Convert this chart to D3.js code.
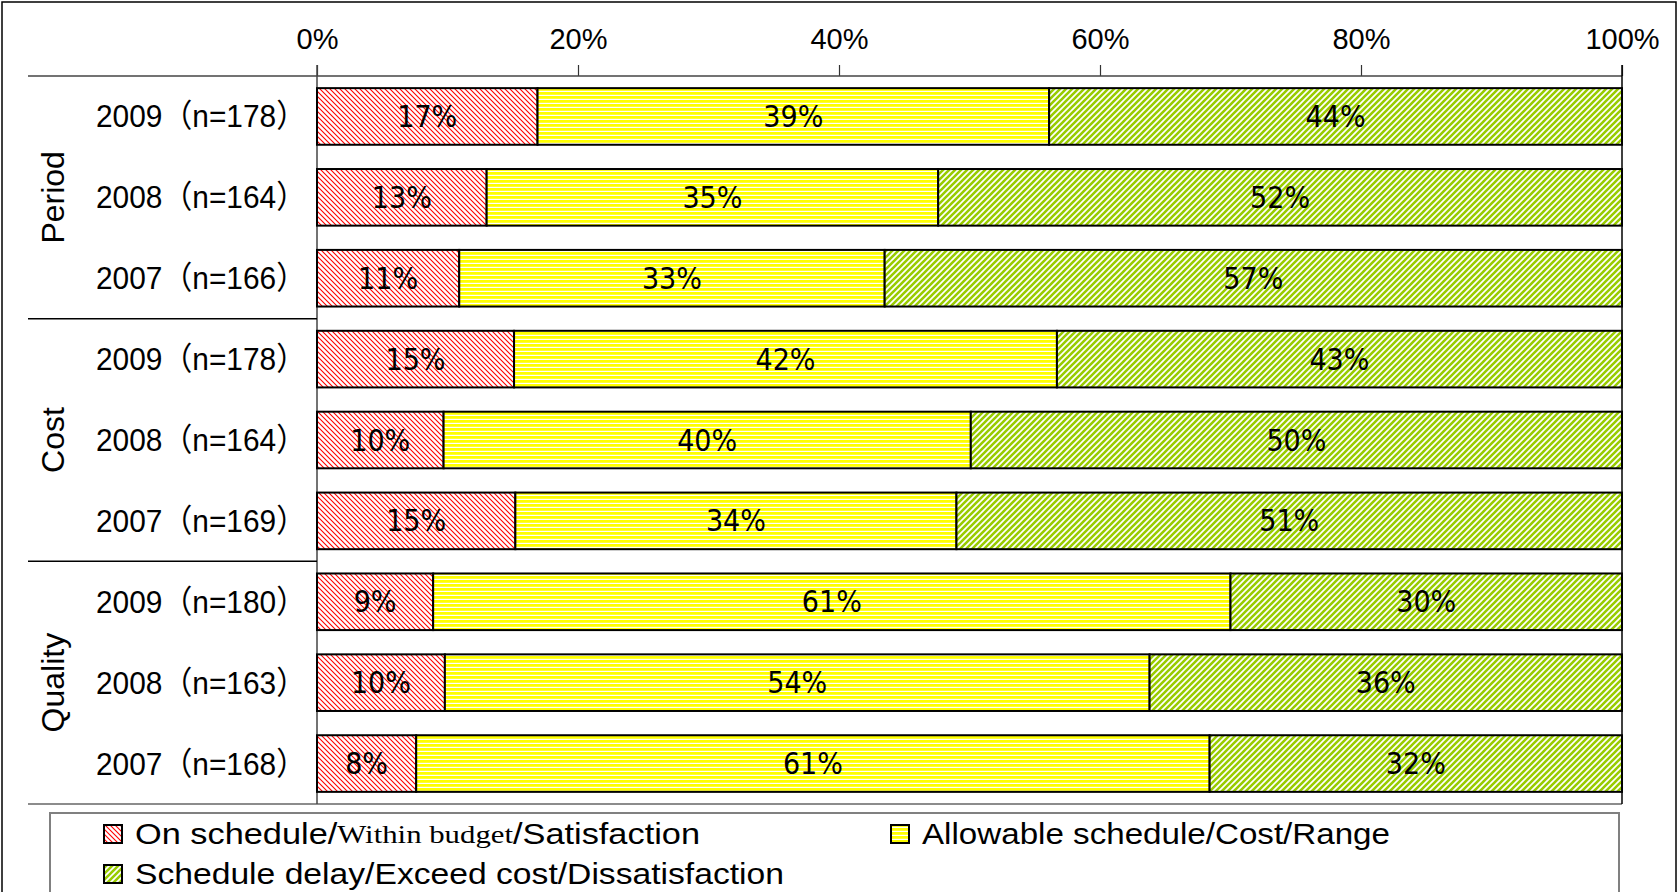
<!DOCTYPE html>
<html>
<head>
<meta charset="utf-8">
<script src="https://cdn.jsdelivr.net/npm/d3@7"></script>
<style>
  body { margin: 0; background: #fff; }
  svg text { font-family: "Liberation Sans", Arial, "Noto Sans CJK JP", sans-serif; fill: #000; }
</style>
</head>
<body>
<div id="chart"></div>
<script>
// data (percent of respondents)
const groups = ["Period", "Cost", "Quality"];
const rowLabels = ["2009（n=178）", "2008（n=164）", "2007（n=166）",
                   "2009（n=178）", "2008（n=164）", "2007（n=169）",
                   "2009（n=180）", "2008（n=163）", "2007（n=168）"];
const rowGroup = ["Period", "Period", "Period", "Cost", "Cost", "Cost", "Quality", "Quality", "Quality"];
const onSchedule = [16.9, 13.0, 10.9, 15.1, 9.7, 15.2, 8.9, 9.8, 7.6];
const allowable  = [39.2, 34.6, 32.6, 41.6, 40.4, 33.8, 61.1, 54.0, 60.8];
const delayed    = [43.9, 52.4, 56.5, 43.3, 49.9, 51.0, 30.0, 36.2, 31.6];
const seriesKeys = ["onSchedule", "allowable", "delayed"];
const xTicks = [0, 20, 40, 60, 80, 100];

const W = 1677, H = 892;
const margin = {top: 76, left: 317, right: 55, bottom: 88};
const plotW = W - margin.left - margin.right,
      plotH = H - margin.top - margin.bottom;

const rows = rowLabels.map((lab, i) => ({
  id: i, label: lab, group: rowGroup[i],
  onSchedule: onSchedule[i], allowable: allowable[i], delayed: delayed[i]
}));

const svg = d3.select("#chart").append("svg")
  .attr("width", W).attr("height", H);

// hatch patterns like the original office chart
const defs = svg.append("defs");
const pRed = defs.append("pattern").attr("id", "pRed")
  .attr("patternUnits", "userSpaceOnUse").attr("width", 5).attr("height", 5);
pRed.append("rect").attr("width", 5).attr("height", 5).attr("fill", "#fff");
pRed.append("path").attr("d", "M-1,-1L6,6M-1,4L1,6M4,-1L6,1")
  .attr("stroke", "#ff0000").attr("stroke-width", 1.1);

const pYel = defs.append("pattern").attr("id", "pYel")
  .attr("patternUnits", "userSpaceOnUse").attr("width", 4).attr("height", 4);
pYel.append("rect").attr("width", 4).attr("height", 4).attr("fill", "#fff");
pYel.append("rect").attr("width", 4).attr("height", 2.8).attr("fill", "#ffff00");

const pGrn = defs.append("pattern").attr("id", "pGrn")
  .attr("patternUnits", "userSpaceOnUse").attr("width", 6).attr("height", 6);
pGrn.append("rect").attr("width", 6).attr("height", 6).attr("fill", "#fff");
pGrn.append("path").attr("d", "M-1,7L7,-1M-2,2L2,-2M4,8L8,4")
  .attr("stroke", "#99cc00").attr("stroke-width", 2.6);

const fills = {onSchedule: "url(#pRed)", allowable: "url(#pYel)", delayed: "url(#pGrn)"};

// outer frame
svg.append("rect").attr("x", 2).attr("y", 2).attr("width", W - 3).attr("height", H + 20)
  .attr("fill", "none").attr("stroke", "#000").attr("stroke-width", 1.5);

const g = svg.append("g").attr("transform", `translate(${margin.left},${margin.top})`);

const x = d3.scaleLinear().domain([0, 100]).range([0, plotW]);
const y = d3.scaleBand().domain(rows.map(d => d.id)).range([0, plotH])
  .paddingInner(0.3).paddingOuter(0.15);

// top axis
const xAxis = g.append("g")
  .call(d3.axisTop(x).tickValues(xTicks).tickFormat(d => d + "%").tickSize(11).tickPadding(16));
xAxis.select(".domain").remove();
xAxis.selectAll(".tick line").attr("stroke", "#333").attr("stroke-width", 1.2);
xAxis.selectAll(".tick text").style("font-size", "29px").attr("fill", "#000");

// frame lines of the plot / category table
const lineCol = "#444";
g.append("line").attr("x1", 28 - margin.left).attr("x2", plotW).attr("y1", 0).attr("y2", 0)
  .attr("stroke", lineCol).attr("stroke-width", 1.5);
g.append("line").attr("x1", 28 - margin.left).attr("x2", plotW).attr("y1", plotH).attr("y2", plotH)
  .attr("stroke", "#666").attr("stroke-width", 1.5);
g.append("line").attr("x1", 0).attr("x2", 0).attr("y1", -11).attr("y2", plotH)
  .attr("stroke", lineCol).attr("stroke-width", 1.5);
g.append("line").attr("x1", plotW).attr("x2", plotW).attr("y1", -11).attr("y2", plotH)
  .attr("stroke", "#000").attr("stroke-width", 1.5);

// group separators
groups.slice(1).forEach(gr => {
  const first = rows.find(r => r.group === gr);
  const yy = y(first.id) - y.step() * y.paddingInner() / 2;
  g.append("line").attr("x1", 28 - margin.left).attr("x2", 0).attr("y1", yy).attr("y2", yy)
    .attr("stroke", "#000").attr("stroke-width", 1.5);
});

// stacked bars
const stack = d3.stack().keys(seriesKeys)(rows);
const layer = g.selectAll(".layer").data(stack).join("g").attr("class", "layer");
layer.selectAll("rect").data(d => d.map(v => Object.assign(v, {key: d.key}))).join("rect")
  .attr("x", d => x(d[0]))
  .attr("y", d => y(d.data.id))
  .attr("width", d => x(d[1]) - x(d[0]))
  .attr("height", y.bandwidth())
  .attr("fill", d => fills[d.key])
  .attr("stroke", "#000").attr("stroke-width", 2);

layer.selectAll("text").data(d => d).join("text")
  .attr("x", d => x((d[0] + d[1]) / 2))
  .attr("y", d => y(d.data.id) + y.bandwidth() / 2)
  .attr("text-anchor", "middle").attr("dominant-baseline", "central")
  .style("font-size", "30px")
  .style("font-family", "'Liberation Sans Narrow', 'DejaVu Sans Condensed', 'Liberation Sans', sans-serif")
  .text(d => Math.round(d[1] - d[0]) + "%");

// row labels
g.selectAll(".rowlab").data(rows).join("text").attr("class", "rowlab")
  .attr("x", -11).attr("y", d => y(d.id) + y.bandwidth() / 2)
  .attr("text-anchor", "end").attr("dominant-baseline", "central")
  .style("font-size", "32px")
  .attr("textLength", 210).attr("lengthAdjust", "spacingAndGlyphs")
  .text(d => d.label);

// group labels, rotated
groups.forEach(gr => {
  const gRows = rows.filter(r => r.group === gr);
  const mid = gRows[Math.floor(gRows.length / 2)];
  const cy = y(mid.id) + y.bandwidth() / 2;
  g.append("text")
    .attr("transform", `translate(${53 - margin.left},${cy}) rotate(-90)`)
    .attr("text-anchor", "middle").attr("dominant-baseline", "central")
    .style("font-size", "32px")
    .text(gr);
});

// legend
const legend = svg.append("g");
legend.append("rect").attr("x", 50).attr("y", 813).attr("width", 1569).attr("height", 120)
  .attr("fill", "#fff").attr("stroke", "#808080").attr("stroke-width", 2);

const legendItems = [
  {key: "onSchedule", x: 104, y: 834},
  {key: "allowable", x: 891, y: 834},
  {key: "delayed", x: 104, y: 874}
];
legendItems.forEach(it => {
  legend.append("rect").attr("x", it.x).attr("y", it.y - 9).attr("width", 18).attr("height", 18)
    .attr("fill", fills[it.key]).attr("stroke", "#000").attr("stroke-width", 2);
});
const t1 = legend.append("text").attr("x", 135).attr("y", 834).attr("dominant-baseline", "central")
  .style("font-size", "29px").attr("textLength", 565).attr("lengthAdjust", "spacingAndGlyphs");
t1.append("tspan").text("On schedule/");
t1.append("tspan").style("font-family", "'Liberation Serif', 'DejaVu Serif', serif").style("font-size", "26px")
  .text("Within budget");
t1.append("tspan").text("/Satisfaction");
legend.append("text").attr("x", 922).attr("y", 834).attr("dominant-baseline", "central")
  .style("font-size", "29px").attr("textLength", 468).attr("lengthAdjust", "spacingAndGlyphs")
  .text("Allowable schedule/Cost/Range");
legend.append("text").attr("x", 135).attr("y", 874).attr("dominant-baseline", "central")
  .style("font-size", "29px").attr("textLength", 649).attr("lengthAdjust", "spacingAndGlyphs")
  .text("Schedule delay/Exceed cost/Dissatisfaction");
</script>
</body>
</html>
